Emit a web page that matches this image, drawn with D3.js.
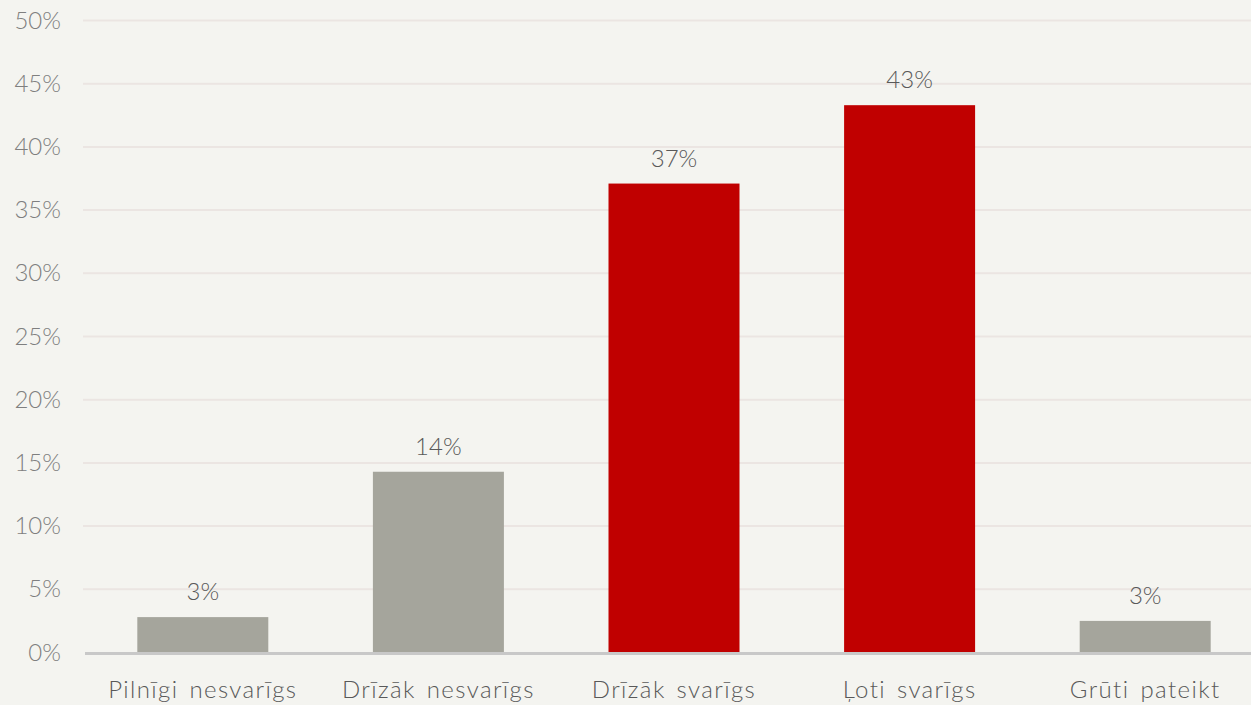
<!DOCTYPE html>
<html>
<head>
<meta charset="utf-8">
<script src="https://cdn.jsdelivr.net/npm/d3@7"></script>
<style>
  html, body { margin: 0; padding: 0; background: #f4f4f0; }
  svg { display: block; }
</style>
</head>
<body>
<svg id="chart" width="1251" height="705"></svg>
<script>
// Answer categories and their shares (percent of respondents)
const categories = ["Pilnīgi nesvarīgs", "Drīzāk nesvarīgs", "Drīzāk svarīgs", "Ļoti svarīgs", "Grūti pateikt"];
const values = [2.8, 14.3, 37.1, 43.3, 2.5];
const barColors = ["#a5a59c", "#a5a59c", "#c00000", "#c00000", "#a5a59c"];
const yTicks = [0, 5, 10, 15, 20, 25, 30, 35, 40, 45, 50];

const svg = d3.select("#chart");
const font = "Lato, 'Open Sans', sans-serif";

const x = d3.scaleBand()
  .domain(categories)
  .range([85, 1263])
  .paddingInner(0.444)
  .paddingOuter(0.222);

const y = d3.scaleLinear()
  .domain([0, 50])
  .range([652.5, 20.5]);

// Horizontal gridlines
svg.append("g")
  .selectAll("line")
  .data(yTicks.filter(t => t > 0))
  .join("line")
  .attr("x1", 83)
  .attr("x2", 1251)
  .attr("y1", d => y(d))
  .attr("y2", d => y(d))
  .attr("stroke", "#ebe5e2")
  .attr("stroke-width", 2);

// Y axis labels
const yAxis = d3.axisLeft(y)
  .tickValues(yTicks)
  .tickFormat(d => d + "%")
  .tickSize(0)
  .tickPadding(0);

const yg = svg.append("g")
  .attr("transform", "translate(61,0)")
  .call(yAxis);
yg.select(".domain").remove();
yg.selectAll("text")
  .attr("fill", "#7f7f7f")
  .style("font-family", font)
  .style("font-weight", 300)
  .style("font-size", "24px");

// Bars
svg.append("g")
  .selectAll("rect")
  .data(values)
  .join("rect")
  .attr("x", (d, i) => x(categories[i]))
  .attr("width", x.bandwidth())
  .attr("y", d => y(d))
  .attr("height", d => y(0) - y(d))
  .attr("fill", (d, i) => barColors[i]);

// Baseline
svg.append("line")
  .attr("x1", 85)
  .attr("x2", 1251)
  .attr("y1", y(0) + 1)
  .attr("y2", y(0) + 1)
  .attr("stroke", "#c8c8c8")
  .attr("stroke-width", 3);

// Value labels above the bars
svg.append("g")
  .selectAll("text")
  .data(values)
  .join("text")
  .attr("x", (d, i) => x(categories[i]) + x.bandwidth() / 2)
  .attr("y", d => y(d) - 17)
  .attr("text-anchor", "middle")
  .attr("fill", "#595959")
  .style("font-family", font)
  .style("font-weight", 300)
  .style("font-size", "24px")
  .text(d => Math.round(d) + "%");

// Category labels
const xAxis = d3.axisBottom(x).tickSize(0).tickPadding(0);
const xg = svg.append("g")
  .attr("transform", "translate(0,681)")
  .call(xAxis);
xg.select(".domain").remove();
xg.selectAll("text")
  .attr("fill", "#595959")
  .style("font-family", font)
  .style("font-weight", 300)
  .style("font-size", "24px")
  .style("letter-spacing", "1.4px")
  .style("word-spacing", "3px");
</script>
</body>
</html>
